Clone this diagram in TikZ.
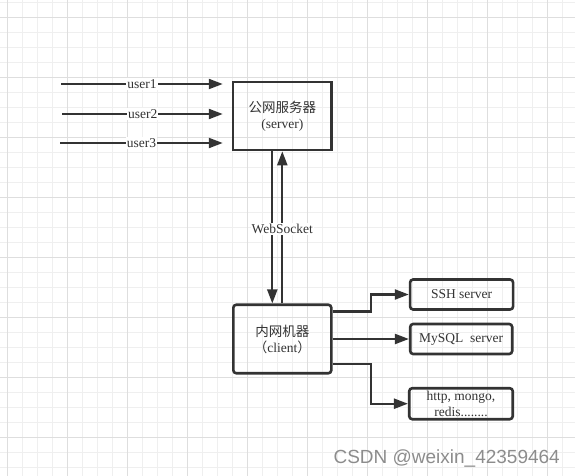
\documentclass[tikz,border=0pt]{standalone}
\usepackage{fontspec}
\setmainfont{Liberation Serif}
\newfontfamily\cjk{Noto Sans CJK SC}
\newfontfamily\wmfont{Liberation Sans}
\usetikzlibrary{arrows.meta, positioning, calc}
\definecolor{ink}{HTML}{333333}
\definecolor{gridminor}{HTML}{EFEFEF}
\definecolor{gridmajor}{HTML}{DEDEDE}
\definecolor{wmgray}{HTML}{8C8C8C}

\begin{document}
\begin{tikzpicture}[x=1pt, y=-1pt,
      box/.style={rectangle, draw=ink, line width=2.6pt, align=center, font=\fontsize{13.5}{16}\selectfont, text=ink, inner sep=1pt},
      rbox/.style={box, rounded corners=3pt},
      arr/.style={-{Triangle[length=14pt, width=10pt]}, line width=2.2pt, ink},
      lbl/.style={fill=white, inner sep=1pt, font=\fontsize{13.5}{16}\selectfont, text=ink}]
    \useasboundingbox (0,0) rectangle (575,476);
    % background grid
    \foreach \k in {0,...,38} \draw[gridminor, line width=1pt] (7.5+15*\k,0) -- (7.5+15*\k,476);
    \foreach \k in {0,...,31} \draw[gridminor, line width=1pt] (0,2.3+15*\k) -- (575,2.3+15*\k);
    \foreach \k in {0,...,9} \draw[gridmajor, line width=1pt] (7.5+60*\k,0) -- (7.5+60*\k,476);
    \foreach \k in {0,...,7} \draw[gridmajor, line width=1pt] (0,17.3+60*\k) -- (575,17.3+60*\k);
    % boxes
    \node[box, minimum width=98.5pt, minimum height=68pt] (srv) at (282.3,116) {{\cjk 公网服务器}\\(server)};
    \node[rbox, minimum width=98pt, minimum height=68.5pt] (cli) at (282.3,339) {{\cjk 内网机器}\\{\cjk （}client{\cjk ）}};
    \node[rbox, minimum width=103pt, minimum height=30pt] (ssh) at (461.6,294.5) {SSH server};
    \node[rbox, minimum width=102pt, minimum height=30pt] (sql) at (461.2,339) {MySQL\ \ server};
    \node[rbox, minimum width=103.5pt, minimum height=31pt, inner sep=0pt] (oth) at (461,403.7) {http, mongo,\\redis........};
    % users
    \coordinate (u1) at (61,84); \coordinate (u2) at (62,114); \coordinate (u3) at (60,143);
    \draw[arr, shorten >=9pt] (u1) -- node[lbl, pos=0.475] {user1} (u1 -| srv.west);
    \draw[arr, shorten >=9pt] (u2) -- node[lbl, pos=0.475] {user2} (u2 -| srv.west);
    \draw[arr, shorten >=9pt] (u3) -- node[lbl, pos=0.475] {user3} (u3 -| srv.west);
    % websocket
    \draw[arr] ([xshift=-10pt]srv.south) -- ([xshift=-10pt]cli.north);
    \draw[arr] (cli.north) -- node[lbl, pos=0.49] {WebSocket} (srv.south);
    % client services
    \draw[arr] ([yshift=27.5pt]cli.east) -- ++(38.5,0) |- (ssh.west);
    \draw[arr] (cli.east) -- (sql.west);
    \draw[arr] ([yshift=-25pt]cli.east) -- ++(38,0) |- (oth.west);
    \node[anchor=base west, font=\wmfont\fontsize{19}{19}\selectfont, text=wmgray] (wm) at (330,463) {CSDN @weixin\_42359464};
  \end{tikzpicture}
\end{document}
